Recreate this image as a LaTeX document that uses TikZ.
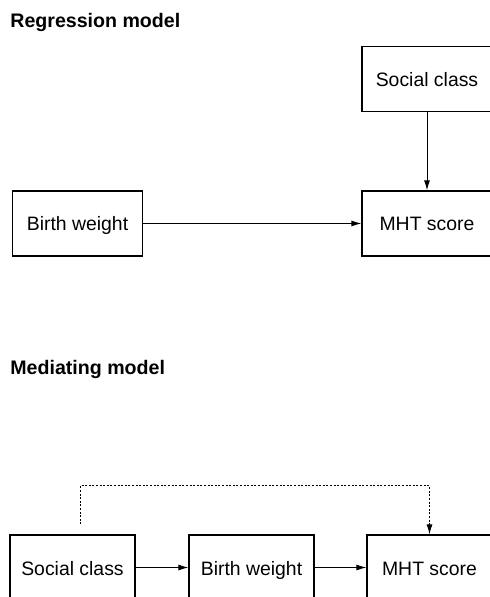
\documentclass[tikz,border=0pt]{standalone}
\usepackage{fontspec}
\setmainfont{Liberation Sans}
\usetikzlibrary{arrows.meta,positioning}

\tikzset{
  modelbox/.style={draw, line width=.6pt, minimum width=65pt, minimum height=32.5pt,
                   inner sep=0pt, text height=8pt, text depth=.5pt,
                   font=\fontsize{9.7}{12}\selectfont},
  modeltitle/.style={anchor=north west, inner sep=0pt, font=\fontsize{9.8}{12}\selectfont\bfseries},
  link/.style={draw, line width=.5pt, -{Latex[length=5pt,width=3pt]}},
  weaklink/.style={link, dash pattern=on 1pt off .8pt}
}

\begin{document}
\begin{tikzpicture}[x=.5pt,y=-.5pt]
        \useasboundingbox (0,0) rectangle (490,597);

        % regression model
        \node[modeltitle] (t1) at (10,13) {Regression model};
        \begin{scope}[every node/.style={modelbox}]
          \node (sc1) at (427,79)    {Social class};
          \node (bw1) at (77.5,223.5) {Birth weight};
          \node (mht1) at (427,223.5) {MHT score};
        \end{scope}
        \path (sc1) edge[link] (mht1);
        \path (bw1) edge[link] (mht1);

        % mediating model
        \node[modeltitle] (t2) at (10,360) {Mediating model};
        \begin{scope}[every node/.style={modelbox}]
          \node[minimum width=62.5pt] (sc2)  at (72.5,567.5)  {Social class};
          \node[minimum width=62.5pt] (bw2)  at (251.5,567.5) {Birth weight};
          \node[minimum width=62.5pt] (mht2) at (429.5,567.5) {MHT score};
        \end{scope}
        \coordinate (dstart) at ([xshift=4pt,yshift=5pt]sc2.north);
        \path (sc2) edge[link] (bw2);
        \path (bw2) edge[link] (mht2);
        \draw[weaklink] (dstart) -- ++(0,-38.5) -| (mht2.north);

      \end{tikzpicture}
\end{document}
